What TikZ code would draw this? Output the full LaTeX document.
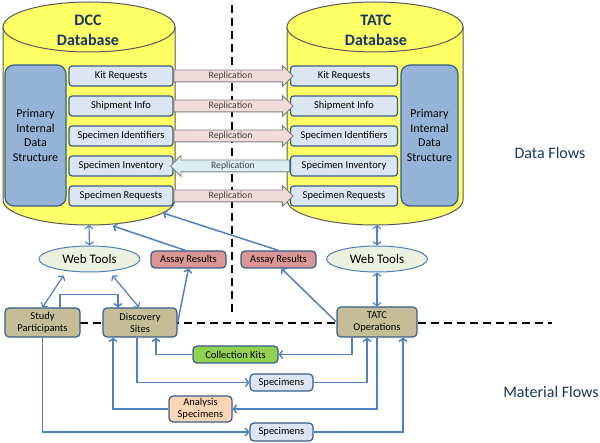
\documentclass[tikz,border=0pt]{standalone}
\usepackage{fontspec}
\setmainfont{Carlito}
\usetikzlibrary{arrows.meta,shapes.geometric,shapes.arrows}
\definecolor{dbyellow}{RGB}{255,255,102}
\definecolor{navy}{RGB}{23,55,94}
\definecolor{boxblue}{RGB}{220,230,242}
\definecolor{boxline}{RGB}{56,93,138}
\definecolor{primblue}{RGB}{149,179,215}
\definecolor{linkblue}{RGB}{79,129,189}
\definecolor{reppink}{RGB}{242,220,219}
\definecolor{repcyan}{RGB}{219,238,244}
\definecolor{toolgreen}{RGB}{235,241,222}
\definecolor{assayred}{RGB}{217,150,148}
\definecolor{sitetan}{RGB}{196,189,151}
\definecolor{kitgreen}{RGB}{146,208,80}
\definecolor{peach}{RGB}{252,213,181}
\begin{document}
\begin{tikzpicture}[x=1pt, y=-1pt, >={Straight Barb[length=3pt,width=8pt]},
	cyl/.style={draw=black!65, fill=dbyellow, line width=1pt},
	dbtitle/.style={text=navy, align=center, font=\bfseries\fontsize{16}{20}\selectfont},
	record/.style={draw=boxline, fill=boxblue, line width=1.2pt, rounded corners=3pt, minimum width=104pt, minimum height=20pt, inner sep=0pt, font=\fontsize{10.5}{12}\selectfont},
	primary/.style={draw=boxline, fill=primblue, line width=1.2pt, rounded corners=9pt, minimum height=141pt, inner sep=0pt, align=center, font=\fontsize{12}{14.5}\selectfont},
	repl/.style={single arrow, draw=gray, fill=reppink, line width=0.8pt, minimum height=119pt, single arrow head extend=4.5pt, inner xsep=0pt, inner ysep=1.5pt, text height=6.5pt, text depth=1.5pt, anchor=tail, text=black!75, font=\fontsize{9.7}{11}\selectfont},
	tool/.style={ellipse, draw=linkblue, fill=toolgreen, line width=1pt, minimum width=101pt, minimum height=26pt, inner sep=0pt, font=\fontsize{13}{15}\selectfont},
	site/.style={draw=boxline, line width=1.2pt, rounded corners=4pt, inner sep=0pt, align=center, font=\fontsize{10.5}{12}\selectfont},
	flow/.style={draw=linkblue, line width=1.5pt, ->},
	twoway/.style={draw=linkblue, line width=1.2pt, <->},
	split/.style={draw=black, line width=2.2pt, dash pattern=on 8pt off 5pt},
	flowlabel/.style={text=navy, font=\fontsize{16}{19}\selectfont}]
	\useasboundingbox (0,0) rectangle (600,443);
	\draw[split] (232,5) -- (232,316);
	\draw[split] (80,323) -- (552,323);
	\draw[cyl] (3,27) -- (3,200) arc[start angle=180, end angle=360, x radius=86pt, y radius=25pt] -- (175,27) -- cycle;
	\draw[cyl] (89,27) ellipse [x radius=86pt, y radius=25pt];
	\draw[cyl] (287,27) -- (287,200) arc[start angle=180, end angle=360, x radius=88pt, y radius=25pt] -- (463,27) -- cycle;
	\draw[cyl] (375,27) ellipse [x radius=88pt, y radius=25pt];
	\node (dccTitle) at (88,30) [dbtitle] {DCC\\Database};
	\node (tatcTitle) at (376,30) [dbtitle] {TATC\\Database};
	\node (dccPrim) at (35.5,135.5) [primary, minimum width=61pt] {Primary\\Internal\\Data\\Structure};
	\node (tatcPrim) at (429.5,135.5) [primary, minimum width=57pt] {Primary\\Internal\\Data\\Structure};
	\node (dccKit) at (121,76) [record] {Kit Requests};
	\node (dccShip) at (121,106) [record] {Shipment Info};
	\node (dccIdent) at (121,136) [record] {Specimen Identifiers};
	\node (dccInv) at (121,166) [record] {Specimen Inventory};
	\node (dccReq) at (121,196) [record] {Specimen Requests};
	\node (tatcKit) at (344,76) [record, minimum width=107pt] {Kit Requests};
	\node (tatcShip) at (344,106) [record, minimum width=107pt] {Shipment Info};
	\node (tatcIdent) at (344,136) [record, minimum width=107pt] {Specimen Identifiers};
	\node (tatcInv) at (344,166) [record, minimum width=107pt] {Specimen Inventory};
	\node (tatcReq) at (344,196) [record, minimum width=107pt] {Specimen Requests};
	\node (repKit) at (dccKit.east) [repl] {Replication};
	\node (repShip) at (dccShip.east) [repl] {Replication};
	\node (repIdent) at (dccIdent.east) [repl] {Replication};
	\node (repInv) at (tatcInv.west) [repl, fill=repcyan, shape border rotate=180] {Replication};
	\node (repReq) at (dccReq.east) [repl] {Replication};
	\coordinate (dccFoot) at (89,225);
	\coordinate (dccIn) at (113,226);
	\coordinate (dccSide) at (163,213);
	\coordinate (tatcFoot) at (377,225);
	\node (webDcc) at (89.5,259) [tool] {Web Tools};
	\node (webTatc) at (377,259) [tool] {Web Tools};
	\node (assayDcc) at (188.5,259.5) [site, fill=assayred, minimum width=75pt, minimum height=17pt] {Assay Results};
	\node (assayTatc) at (278.5,259.5) [site, fill=assayred, minimum width=75pt, minimum height=17pt] {Assay Results};
	\node (study) at (42.5,322.5) [site, fill=sitetan, minimum width=75pt, minimum height=29pt] {Study\\Participants};
	\node (disc) at (140,322.5) [site, fill=sitetan, minimum width=74pt, minimum height=29pt] {Discovery\\Sites};
	\node (ops) at (377,322) [site, fill=sitetan, minimum width=80pt, minimum height=30pt] {TATC\\Operations};
	\node (kits) at (235.5,354.5) [site, fill=kitgreen, minimum width=85pt, minimum height=17pt] {Collection Kits};
	\node (specA) at (281.5,382.5) [site, fill=boxblue, minimum width=63pt, minimum height=17pt] {Specimens};
	\node (anal) at (200.5,409) [site, fill=peach, minimum width=63pt, minimum height=26pt] {Analysis\\Specimens};
	\node (specB) at (281.5,432) [site, fill=boxblue, minimum width=63pt, minimum height=18pt] {Specimens};
	\draw[twoway] (dccFoot) -- (webDcc.north);
	\draw[twoway] (tatcFoot) -- (webTatc.north);
	\draw[twoway] ([xshift=-26pt,yshift=-3pt]webDcc.south) -- (study.north);
	\draw[twoway] ([xshift=23pt,yshift=-3pt]webDcc.south) -- ([xshift=-1pt]disc.north);
	\draw[twoway] (webTatc.south) -- (ops.north);
	\draw[flow] ([xshift=17.5pt]study.north) -- ++(0,-13) -| ([xshift=-22pt]disc.north);
	\draw[flow] (disc.east) -- (assayDcc.south);
	\draw[flow] ([xshift=-3pt]assayDcc.north) -- (dccIn);
	\draw[flow] (assayTatc.north) -- (dccSide);
	\draw[flow] (ops.west) -- ([xshift=3pt]assayTatc.south);
	\draw[flow] ([xshift=-25pt]ops.south) |- (kits.east);
	\draw[flow] (kits.west) -| ([xshift=16pt]disc.south);
	\draw[flow] ([xshift=-3pt]disc.south) |- (specA.west);
	\draw[flow] (specA.east) -| ([xshift=-10pt]ops.south);
	\draw[flow] (ops.south) |- (anal.east);
	\draw[flow] (anal.west) -| ([xshift=-27pt]disc.south);
	\draw[flow] (study.south) |- (specB.west);
	\draw[flow] (specB.east) -| ([xshift=26pt]ops.south);
	\node (dataFlows) at (550,153) [flowlabel] {Data Flows};
	\node (materialFlows) at (551,392) [flowlabel] {Material Flows};
\end{tikzpicture}
\end{document}
